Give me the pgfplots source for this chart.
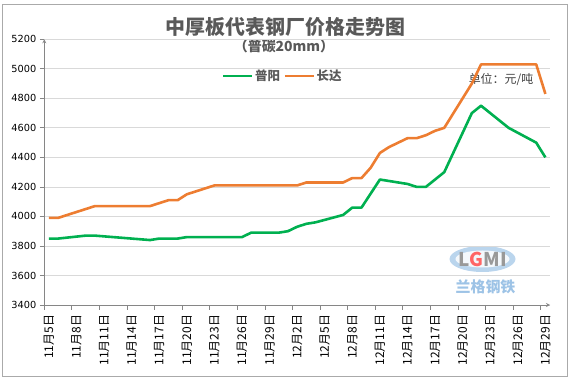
\documentclass[border=0pt]{standalone}
\usepackage{pgfplots}
\pgfplotsset{compat=1.18}
\usepackage{fontspec}
\setmainfont{Noto Sans CJK SC}
\newfontfamily\dejavu{DejaVu Sans}
\definecolor{pyg}{HTML}{00B050}
\definecolor{cdo}{HTML}{ED7D31}
\definecolor{axgray}{HTML}{868686}
\definecolor{gridgray}{HTML}{D9D9D9}
\definecolor{txtgray}{HTML}{595959}
\definecolor{wmblue}{HTML}{9DC3E6}

\pgfplotstableread{
d v
0 3850
1 3850
4 3870
5 3870
7 3860
11 3840
12 3850
14 3850
15 3860
21 3860
22 3890
25 3890
26 3900
27 3930
28 3950
29 3960
32 4010
33 4060
34 4060
36 4250
39 4220
40 4200
41 4200
42 4250
43 4300
46 4700
47 4750
50 4600
53 4500
54 4400
}\puyang

\pgfplotstableread{
d v
0 3990
1 3990
5 4070
11 4070
13 4110
14 4110
15 4150
18 4210
27 4210
28 4230
32 4230
33 4260
34 4260
35 4330
36 4430
37 4470
39 4530
40 4530
41 4550
42 4580
43 4600
44 4700
45 4800
46 4900
47 5030
53 5030
54 4830
}\changda

\begin{document}
\begin{tikzpicture}
\useasboundingbox (-44.3bp,-77bp) rectangle (527.7bp,305bp);
\draw[color=axgray!70, line width=0.8bp] (-41.6bp,-71bp) rectangle (522.7bp,301bp);
% title
\node[text=txtgray, font=\bfseries\fontsize{20}{24}\selectfont] at (241.2bp,278bp) {中厚板代表钢厂价格走势图};
\node[text=txtgray, font=\bfseries\fontsize{14}{16}\selectfont] at (239.7bp,258.5bp) {（普碳20mm）};
\node[text=black!75, font=\fontsize{12}{14}\selectfont] at (456.7bp,225bp) {单位：元/吨};
% watermark
\fill[wmblue, opacity=0.7] (438.2bp,46bp) ellipse [x radius=33bp, y radius=13bp];
\fill[white, opacity=0.85] (438.2bp,46bp) ellipse [x radius=27bp, y radius=8.5bp];
\node[font=\bfseries\fontsize{19}{20}\selectfont, text=gray!80] at (438.2bp,46bp) {L\textcolor{red!60}{G}MI};
\node[font=\bfseries\fontsize{15}{16}\selectfont, text=wmblue] at (441.2bp,18.5bp) {兰格钢铁};
\begin{axis}[
  at={(0,0)}, anchor=south west,
  scale only axis, width=505.7bp, height=265.7bp,
  xmin=-0.5, xmax=54.5, ymin=3400, ymax=5200,
  ytick={3400,3600,...,5200},
  ymajorgrids, grid style={gridgray, line width=0.75bp},
  axis x line=bottom, axis y line=left,
  axis line style={axgray, line width=0.8bp},
  tick align=outside,
  major tick length=4.5bp, minor tick length=4.5bp,
  ytick style={axgray, line width=0.8bp},
  major x tick style={draw=none},
  minor x tick style={axgray, line width=0.8bp},
  minor xtick={-0.5,2.5,...,53.5},
  xtick={0,3,...,54},
  xticklabels={11月5日,11月8日,11月11日,11月14日,11月17日,11月20日,11月23日,11月26日,11月29日,12月2日,12月5日,12月8日,12月11日,12月14日,12月17日,12月20日,12月23日,12月26日,12月29日},
  xticklabel style={rotate=90, anchor=east, font=\fontsize{12}{13}\selectfont, text=black},
  xticklabel shift=2bp,
  yticklabel style={font=\dejavu\fontsize{9.8}{11}\selectfont, text=black},
  /pgf/number format/assume math mode=true,
  /pgf/number format/set thousands separator={},
  legend columns=2,
  legend style={at={(0.345,0.862)}, anchor=west, draw=none, fill=none,
    font=\bfseries\fontsize{12.5}{14}\selectfont, text=txtgray,
    /tikz/every even column/.append style={column sep=2bp},
    nodes={inner sep=1.5bp}},
  legend image code/.code={\draw[#1] (0bp,0bp) -- (29bp,0bp);},
]
\addplot[pyg, line width=2.6bp, line join=round, no markers] table[x=d, y=v] {\puyang};
\addlegendentry{普阳}
\addplot[cdo, line width=2.6bp, line join=round, no markers] table[x=d, y=v] {\changda};
\addlegendentry{长达}
\end{axis}
\end{tikzpicture}
\end{document}
